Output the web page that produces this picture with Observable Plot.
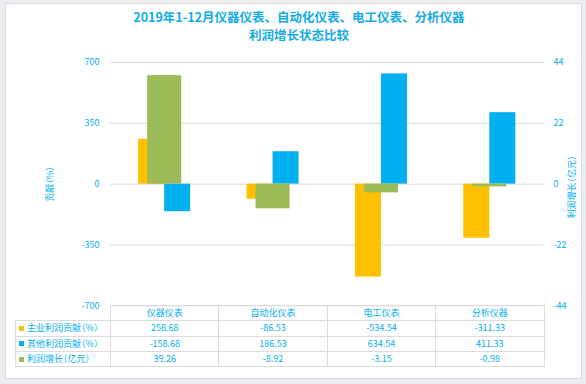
<!DOCTYPE html>
<html>
<head>
<meta charset="utf-8">
<script src="https://cdn.jsdelivr.net/npm/d3@7"></script>
<script src="https://cdn.jsdelivr.net/npm/@observablehq/plot@0.6"></script>
<style>
  html, body { margin: 0; padding: 0; }
  body { width: 586px; height: 384px; overflow: hidden; background: #eceef1; position: relative;
         font-family: "Noto Sans CJK SC", "Noto Sans", sans-serif; color: #00b0f0; }
  #panel { position: absolute; left: 5px; top: 3px; width: 577px; height: 376px; box-sizing: border-box;
           background: #fff; border: 1px solid #d8dadd; }
  #title { position: absolute; left: 0; top: 8px; width: 598px; text-align: center; font-size: 12.5px;
           font-weight: bold; line-height: 18px; color: #12abe8; }
  .ytitle { position: absolute; font-size: 9px; white-space: nowrap; transform: translate(-50%, -50%) rotate(-90deg);
            font-feature-settings: "halt"; }
  #chart { position: absolute; left: 0; top: 50px; }
  #table { position: absolute; left: 14.5px; top: 305px; border-collapse: collapse; table-layout: fixed;
           font-size: 9px; color: #00b0f0; }
  #table td { border: 1px solid #dcdcdc; height: 14.3px; padding: 0; text-align: center; line-height: 14px;
              white-space: nowrap; overflow: hidden; }
  #table td.blank { border-top: none; border-left: none; }
  #table td.lab { text-align: left; padding-left: 3.5px; font-feature-settings: "halt"; }
  .key { display: inline-block; width: 5px; height: 5px; margin-right: 3px; vertical-align: 0.5px; }
</style>
</head>
<body>
<div id="panel"></div>
<div id="title">2019年1-12月仪器仪表、自动化仪表、电工仪表、分析仪器<br>利润增长状态比较</div>
<div class="ytitle" style="left:49px; top:184px;">贡献（%）</div>
<div class="ytitle" style="left:571px; top:187px;">利润增长（亿元）</div>
<div id="chart"></div>
<script>
// ---- data ----
const categories = ["仪器仪表", "自动化仪表", "电工仪表", "分析仪器"];
const mainProfitShare = [258.68, -86.53, -534.54, -311.33];   // 主业利润贡献（%）
const otherProfitShare = [-158.68, 186.53, 634.54, 411.33];   // 其他利润贡献（%）
const profitGrowth = [39.26, -8.92, -3.15, -0.98];            // 利润增长（亿元）
const seriesNames = ["主业利润贡献（%）", "其他利润贡献（%）", "利润增长（亿元）"];
const leftTicks = [-700, -350, 0, 350, 700];
const rightTicks = [-44, -22, 0, 22, 44];

// ---- styles ----
const colors = ["#ffc000", "#00b0f0", "#9bbb59"];
const textColor = "#00b0f0";
const ratio = 700 / 44; // secondary axis -> primary axis
const half = 0.24, gHalf = 0.157;

const idx = categories.map((_, i) => i);

const plot = Plot.plot({
  width: 586,
  height: 265,
  marginLeft: 110,
  marginRight: 42.5,
  marginTop: 12,
  marginBottom: 9.7,
  style: { background: "transparent", fontFamily: "'Noto Sans CJK SC', sans-serif", fontSize: "9px", color: textColor, overflow: "visible" },
  x: { type: "linear", domain: [-0.5, categories.length - 0.5], axis: null },
  y: { domain: [leftTicks[0], leftTicks[leftTicks.length - 1]], axis: null },
  marks: [
    Plot.ruleY(leftTicks, { stroke: "#d9d9d9", strokeWidth: 1 }),
    Plot.rect(idx, { x1: i => i - half, x2: i => i, y1: 0, y2: i => mainProfitShare[i], fill: colors[0] }),
    Plot.rect(idx, { x1: i => i, x2: i => i + half, y1: 0, y2: i => otherProfitShare[i], fill: colors[1] }),
    Plot.rect(idx, { x1: i => i - gHalf, x2: i => i + gHalf, y1: 0, y2: i => profitGrowth[i] * ratio, fill: colors[2] }),
    Plot.axisY(leftTicks, { anchor: "left", tickSize: 0, tickPadding: 11, tickFormat: d => String(d), label: null, fill: textColor }),
    Plot.axisY(rightTicks.map(t => t * ratio), { anchor: "right", tickSize: 0, tickPadding: 9.5,
      tickFormat: d => String(Math.round(d / ratio)), label: null, fill: textColor })
  ]
});
document.getElementById("chart").appendChild(plot);

// ---- data table ----
const colW = (586 - 110 - 42.5) / categories.length;
const table = document.createElement("table");
table.id = "table";
const colgroup = document.createElement("colgroup");
[95.5, ...categories.map(() => colW)].forEach(w => {
  const c = document.createElement("col"); c.style.width = w + "px"; colgroup.appendChild(c);
});
table.appendChild(colgroup);
const head = document.createElement("tr");
const blank = document.createElement("td"); blank.className = "blank"; head.appendChild(blank);
categories.forEach(c => { const td = document.createElement("td"); td.textContent = c; head.appendChild(td); });
table.appendChild(head);
[mainProfitShare, otherProfitShare, profitGrowth].forEach((vals, s) => {
  const tr = document.createElement("tr");
  const lab = document.createElement("td"); lab.className = "lab";
  const key = document.createElement("span"); key.className = "key"; key.style.background = colors[s];
  lab.appendChild(key); lab.appendChild(document.createTextNode(seriesNames[s]));
  tr.appendChild(lab);
  vals.forEach(v => { const td = document.createElement("td"); td.textContent = v.toFixed(2); tr.appendChild(td); });
  table.appendChild(tr);
});
document.body.appendChild(table);
</script>
</body>
</html>
